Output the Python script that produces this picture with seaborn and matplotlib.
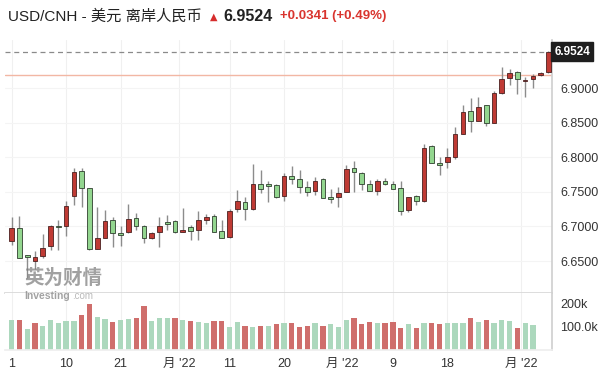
import numpy as np
import pandas as pd
import matplotlib.pyplot as plt
import seaborn as sns

# Daily OHLC (70 sessions)
opens = [6.679, 6.698, 6.657, 6.650, 6.657, 6.671, 6.700, 6.700, 6.744, 6.780,
         6.755, 6.668, 6.684, 6.709, 6.690, 6.692, 6.712, 6.700, 6.683, 6.692,
         6.706, 6.708, 6.692, 6.699, 6.695, 6.710, 6.715, 6.693, 6.685, 6.725,
         6.736, 6.725, 6.761, 6.761, 6.760, 6.744, 6.773, 6.769, 6.757, 6.751,
         6.768, 6.743, 6.743, 6.750, 6.784, 6.777, 6.762, 6.751, 6.766, 6.762,
         6.755, 6.724, 6.744, 6.737, 6.816, 6.792, 6.793, 6.801, 6.834, 6.867,
         6.852, 6.875, 6.850, 6.893, 6.915, 6.923, 6.910, 6.913, 6.919, 6.923]
highs = [6.714, 6.715, 6.658, 6.664, 6.689, 6.702, 6.709, 6.737, 6.784, 6.785,
         6.756, 6.728, 6.724, 6.714, 6.701, 6.733, 6.720, 6.702, 6.692, 6.713,
         6.716, 6.710, 6.726, 6.702, 6.723, 6.718, 6.718, 6.709, 6.725, 6.753,
         6.743, 6.790, 6.782, 6.765, 6.762, 6.777, 6.787, 6.782, 6.765, 6.771,
         6.770, 6.754, 6.757, 6.789, 6.794, 6.779, 6.767, 6.768, 6.770, 6.765,
         6.765, 6.743, 6.745, 6.819, 6.818, 6.800, 6.813, 6.843, 6.875, 6.885,
         6.887, 6.875, 6.896, 6.931, 6.927, 6.924, 6.916, 6.920, 6.923, 6.953]
lows = [6.673, 6.654, 6.625, 6.638, 6.654, 6.666, 6.666, 6.686, 6.731, 6.728,
        6.666, 6.667, 6.683, 6.670, 6.671, 6.690, 6.695, 6.676, 6.682, 6.670,
        6.695, 6.690, 6.692, 6.680, 6.681, 6.704, 6.692, 6.684, 6.684, 6.721,
        6.710, 6.724, 6.748, 6.736, 6.741, 6.737, 6.762, 6.749, 6.744, 6.745,
        6.741, 6.734, 6.728, 6.750, 6.750, 6.753, 6.751, 6.745, 6.760, 6.754,
        6.716, 6.721, 6.731, 6.736, 6.791, 6.775, 6.785, 6.797, 6.834, 6.837,
        6.852, 6.845, 6.850, 6.892, 6.904, 6.891, 6.887, 6.900, 6.918, 6.921]
closes = [6.698, 6.655, 6.656, 6.656, 6.669, 6.700, 6.699, 6.729, 6.779, 6.756,
          6.667, 6.683, 6.708, 6.690, 6.687, 6.711, 6.701, 6.683, 6.691, 6.701,
          6.703, 6.692, 6.694, 6.694, 6.710, 6.714, 6.692, 6.684, 6.723, 6.737,
          6.725, 6.761, 6.754, 6.759, 6.743, 6.773, 6.768, 6.757, 6.750, 6.765,
          6.741, 6.739, 6.749, 6.783, 6.778, 6.761, 6.751, 6.766, 6.762, 6.754,
          6.722, 6.743, 6.737, 6.814, 6.791, 6.789, 6.800, 6.834, 6.866, 6.852,
          6.873, 6.849, 6.893, 6.913, 6.921, 6.913, 6.912, 6.917, 6.922, 6.9524]

# volume in thousands (last two sessions have no bar)
volumes = [129, 129, 89, 114, 104, 129, 117, 126, 126, 152,
           197, 143, 134, 122, 129, 133, 139, 189, 126, 139,
           139, 139, 129, 126, 122, 114, 126, 126, 100, 122,
           104, 100, 104, 104, 110, 117, 117, 100, 104, 114,
           104, 110, 97, 129, 139, 110, 122, 114, 114, 122,
           96, 110, 96, 114, 117, 110, 117, 114, 114, 139,
           122, 129, 114, 129, 126, 93, 117, 107, np.nan, np.nan]
vol_red = [0, 1, 0, 1, 0, 0, 0, 0, 0, 1,
           1, 0, 0, 1, 0, 0, 1, 1, 0, 0,
           0, 1, 0, 1, 0, 0, 1, 1, 0, 0,
           1, 0, 1, 0, 1, 0, 1, 1, 1, 0,
           1, 0, 0, 0, 1, 1, 1, 0, 1, 1,
           1, 0, 1, 0, 1, 1, 0, 0, 0, 1,
           0, 1, 0, 0, 0, 1, 0, 0, 1, 1]

tick_labels = ["1", "10", "21", "月 '22", "11", "20", "月 '22", "9", "18", "月 '22"]
tick_pos = [0, 7, 14, 21.5, 28, 35, 42.5, 49, 56, 65.5]
price_ticks = [6.65, 6.70, 6.75, 6.80, 6.85, 6.90]
last_price = 6.9524
prev_close = 6.9183
change = "+0.0341 (+0.49%)"

RED = "#bf3a34"
GREEN = "#93d68f"
VRED = "#cf6e6c"
VGREEN = "#acd8bd"

df = pd.DataFrame({"open": opens, "high": highs, "low": lows, "close": closes,
                   "volume": volumes, "vol_red": vol_red})
df["idx"] = np.arange(len(df))

sns.set_theme(style="white")
fam = ["Liberation Sans", "Noto Sans CJK SC", "DejaVu Sans"]
plt.rcParams["font.family"] = fam

fig = plt.figure(figsize=(6, 3.79), dpi=100)
ax = fig.add_axes([0.0083, 0.2269, 0.9117, 0.6676])
axv = fig.add_axes([0.0083, 0.0765, 0.9117, 0.1504], sharex=ax)

# grid
for t in tick_pos:
    ax.axvline(t, color="#f0f0f0", lw=0.8, zorder=0)
    axv.axvline(t, color="#f0f0f0", lw=0.8, zorder=0)
for p in price_ticks:
    ax.axhline(p, color="#f4f4f4", lw=0.8, zorder=0)

# candles
ax.vlines(df["idx"], df["low"], df["high"], color="#8c8c8c", lw=1, zorder=2)
up = df["close"] >= df["open"]
body_lo = df[["open", "close"]].min(axis=1)
body_h = (df["close"] - df["open"]).abs().clip(lower=0.0022)
ax.bar(df["idx"][up], body_h[up], bottom=body_lo[up], width=0.6,
       color=RED, edgecolor="#4a2020", linewidth=0.6, zorder=3)
ax.bar(df["idx"][~up], body_h[~up], bottom=body_lo[~up], width=0.6,
       color=GREEN, edgecolor="#2f3f2f", linewidth=0.6, zorder=3)

# previous close and last price lines
ax.axhline(prev_close, color="#f2b7a4", lw=1, zorder=1)
ax.axhline(last_price, color="#8a8a8a", lw=0.9, ls=(0, (4, 3)), zorder=1)

ax.set_xlim(-0.86, 69.45)
ax.set_ylim(6.6038, 6.9694)
ax.yaxis.tick_right()
ax.set_yticks(price_ticks)
ax.set_yticklabels([f"{p:.4f}" for p in price_ticks])
ax.tick_params(axis="y", length=0, pad=6, labelsize=9, labelcolor="#333333")
ax.tick_params(axis="x", length=0, labelbottom=False)
for s in ["top", "left"]:
    ax.spines[s].set_visible(False)
ax.spines["right"].set_color("#d0d0d0")
ax.spines["bottom"].set_color("#d8d8d8")

ax.text(1.004, last_price, f"{last_price:.4f}", transform=ax.get_yaxis_transform(),
        ha="left", va="center", fontsize=8.5, fontweight="bold", color="white",
        bbox=dict(boxstyle="square,pad=0.28", fc="#1e1e1e", ec="#1e1e1e"))

# volume
vdf = df.dropna(subset=["volume"]).copy()
vdf["dir"] = np.where(vdf["vol_red"] == 1, "up", "down")
sns.barplot(data=vdf, x="idx", y="volume", hue="dir", palette={"up": VRED, "down": VGREEN},
            native_scale=True, dodge=False, width=0.68, saturation=1, legend=False,
            linewidth=0, ax=axv)
axv.set_ylim(0, 244.6)
axv.yaxis.tick_right()
axv.set_yticks([100, 200])
axv.set_yticklabels(["100.0k", "200k"])
axv.tick_params(axis="y", length=0, pad=6, labelsize=9, labelcolor="#333333")
axv.set_xticks(tick_pos)
axv.set_xticklabels(tick_labels)
axv.tick_params(axis="x", length=0, pad=6, labelsize=9, labelcolor="#333333")
axv.set_xlabel("")
axv.set_ylabel("")
for s in ["top", "left"]:
    axv.spines[s].set_visible(False)
axv.spines["right"].set_color("#d0d0d0")
axv.spines["bottom"].set_color("#eeeeee")
ax.set_xlim(-0.86, 69.45)

# header
fig.text(0.013, 0.957, "USD/CNH - 美元 离岸人民币", fontsize=11, color="#222222",
         va="center", ha="left", family=fam)
fig.text(0.357, 0.957, "▲", fontsize=7, color="#d62c2c", va="center", ha="center",
         family=["DejaVu Sans"])
fig.text(0.373, 0.957, f"{last_price:.4f}", fontsize=11.5, fontweight="bold",
         color="#222222", va="center", ha="left", family=fam)
fig.text(0.467, 0.957, change, fontsize=9.5, fontweight="bold", color="#d9352f",
         va="center", ha="left", family=fam)

# watermark
fig.text(0.04, 0.266, "英为财情", fontsize=14, fontweight="bold", color="#7a7a7a",
         alpha=0.7, va="center", ha="left", family=["Noto Sans CJK SC"])
fig.text(0.04, 0.218, "Investing", fontsize=7.5, fontweight="bold", color="#8a8a8a",
         alpha=0.8, va="center", ha="left", family=fam)
fig.text(0.121, 0.218, ".com", fontsize=7, color="#a8a8a8", alpha=0.8,
         va="center", ha="left", family=fam)

fig.savefig("out.png", dpi=100)
